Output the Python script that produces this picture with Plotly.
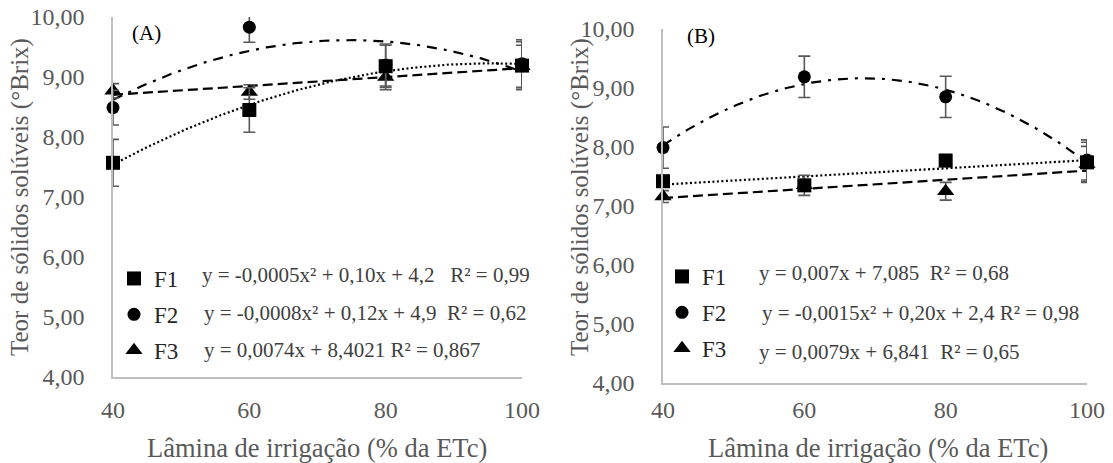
import numpy as np
import plotly.graph_objects as go

# Lâmina de irrigação (% da ETc)
lamina = [40, 60, 80, 100]

# Painel A – teor de sólidos solúveis (°Brix)
a_f1 = [7.57, 8.45, 9.18, 9.19]
a_f2 = [8.49, 9.83, 9.20, 9.22]
a_f3 = [8.77, 8.75, 9.00, 9.18]
a_f1_err = [0.39, 0.37, 0.35, 0.40]
a_f2_err = [0.29, 0.25, 0.35, 0.40]
a_f3_err = [0.12, 0.12, 0.21, 0.35]

# Painel B – teor de sólidos solúveis (°Brix)
b_f1 = [7.42, 7.35, 7.77, 7.74]
b_f2 = [7.99, 9.19, 8.85, 7.78]
b_f3 = [7.16, 7.35, 7.25, 7.71]
b_f1_err = [0.10, 0.17, 0.10, 0.34]
b_f2_err = [0.35, 0.35, 0.35, 0.34]
b_f3_err = [0.10, 0.10, 0.15, 0.30]

series_names = ["F1", "F2", "F3"]
a_degrees = [2, 2, 1]
b_degrees = [1, 2, 1]

NB = "\u00a0"
a_equations = [
    f"y = -0,0005x² + 0,10x + 4,2{NB*3}R² = 0,99",
    f"y = -0,0008x² + 0,12x + 4,9{NB*2}R² = 0,62",
    "y = 0,0074x + 8,4021 R² = 0,867",
]
b_equations = [
    f"y = 0,007x + 7,085{NB*2}R² = 0,68",
    "y = -0,0015x² + 0,20x + 2,4 R² = 0,98",
    f"y = 0,0079x + 6,841{NB*2}R² = 0,65",
]

y_ticks = [4, 5, 6, 7, 8, 9, 10]
x_ticks = [40, 60, 80, 100]

W, H = 1113, 463
SERIF = "Liberation Serif"
GREY_TXT = "#595959"
AXIS_GREY = "#BFBFBF"

symbols = ["square", "circle", "triangle-up"]
marker_sizes = [14, 13, 15]
dashes = ["2px,2.5px", "10px,7px,3px,7px", "10px,5px"]


def px(x):
    return x / W


def py(y):
    return 1 - y / H


fig = go.Figure()

panels = [
    dict(xa="x", ya="y", legend="legend",
         data=[a_f1, a_f2, a_f3], err=[a_f1_err, a_f2_err, a_f3_err],
         deg=a_degrees),
    dict(xa="x2", ya="y2", legend="legend2",
         data=[b_f1, b_f2, b_f3], err=[b_f1_err, b_f2_err, b_f3_err],
         deg=b_degrees),
]

xs_fit = np.linspace(40, 100, 121)
for p in panels:
    # trend lines (least-squares fits of each series)
    for vals, deg, dash in zip(p["data"], p["deg"], dashes):
        coef = np.polyfit(lamina, vals, deg)
        fig.add_trace(go.Scatter(
            x=xs_fit, y=np.polyval(coef, xs_fit), mode="lines",
            line=dict(color="black", width=2.2, dash=dash),
            xaxis=p["xa"], yaxis=p["ya"], showlegend=False,
            hoverinfo="skip", cliponaxis=False))
    # observed means with error bars; F1 drawn last so it sits on top
    for i in [2, 1, 0]:
        fig.add_trace(go.Scatter(
            x=lamina, y=p["data"][i], mode="markers", name=series_names[i],
            marker=dict(symbol=symbols[i], size=marker_sizes[i],
                        color="black", line=dict(width=0)),
            error_y=dict(type="data", array=p["err"][i], color="#595959",
                         thickness=1.6, width=6),
            xaxis=p["xa"], yaxis=p["ya"], legend=p["legend"],
            legendrank=i + 1, legendgroup=p["legend"] + series_names[i],
            cliponaxis=False))

axis_common = dict(showline=True, linecolor=AXIS_GREY, linewidth=1.5,
                   showgrid=False, zeroline=False, ticks="",
                   automargin=False,
                   tickfont=dict(family=SERIF, size=24, color=GREY_TXT))

xa_dom = [px(113), px(522)]
xb_dom = [px(663), px(1087)]
ya_dom = [py(377), py(17)]
yb_dom = [py(383), py(29)]

legend_common = dict(bgcolor="rgba(0,0,0,0)", borderwidth=0,
                     font=dict(family=SERIF, size=23, color="#262626"),
                     traceorder="grouped", tracegroupgap=3,
                     xanchor="left", yanchor="top", itemsizing="trace")

fig.update_layout(
    template="none",
    width=W, height=H, margin=dict(l=0, r=0, t=0, b=0, autoexpand=False),
    plot_bgcolor="white", paper_bgcolor="white",
    separators=", ",
    xaxis=dict(domain=xa_dom, range=[40, 100], tickvals=x_ticks,
               anchor="y", ticklabelstandoff=10, **axis_common),
    yaxis=dict(domain=ya_dom, range=[4, 10], tickvals=y_ticks,
               tickformat=".2f", anchor="x", ticklabelstandoff=22,
               **axis_common),
    xaxis2=dict(domain=xb_dom, range=[40, 100], tickvals=x_ticks,
                anchor="y2", ticklabelstandoff=4, **axis_common),
    yaxis2=dict(domain=yb_dom, range=[4, 10], tickvals=y_ticks,
                tickformat=".2f", anchor="x2", ticklabelstandoff=22,
                **axis_common),
    legend=dict(x=px(114), y=py(257), **legend_common),
    legend2=dict(x=px(662), y=py(255), **legend_common),
)


def note(text, x, y, size, color, xanchor="center", angle=0):
    return dict(text=text, x=px(x), y=py(y), xref="paper", yref="paper",
                xanchor=xanchor, yanchor="middle", showarrow=False,
                textangle=angle,
                font=dict(family=SERIF, size=size, color=color))


annotations = [
    note("(A)", 146, 33, 21, "black"),
    note("(B)", 701, 36, 21, "black"),
]
# axis titles
for cx in [317, 878]:
    annotations.append(note("Lâmina de irrigação (% da ETc)", cx, 448, 26.5,
                            GREY_TXT))
for cx in [20, 580]:
    annotations.append(note("Teor de sólidos solúveis (°Brix)", cx, 197, 25,
                            GREY_TXT, angle=-90))
# regression equations beside the legend entries
eq_rows_a = [(200, 275), (202, 313), (202, 350)]
eq_rows_b = [(757, 273), (760, 313), (757, 352)]
for eqs, rows in [(a_equations, eq_rows_a), (b_equations, eq_rows_b)]:
    for eq, (ex, ey) in zip(eqs, rows):
        annotations.append(note(eq, ex, ey, 21, "#404040", xanchor="left"))
fig.update_layout(annotations=annotations)

fig.write_html("out.html")
